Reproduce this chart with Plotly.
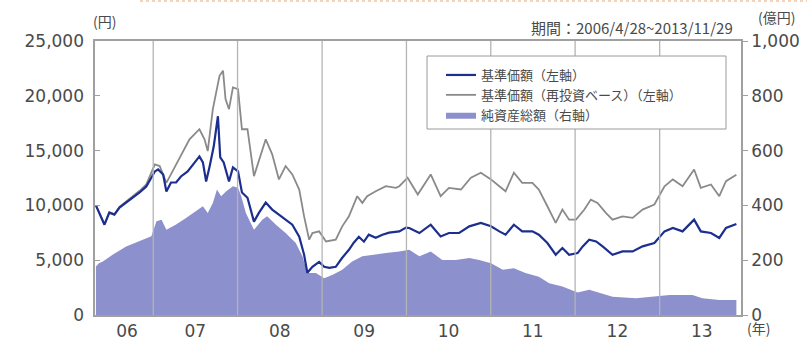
import plotly.graph_objects as go

# ---- data ----
nav_dates = ["2006-04-28","2006-05-13","2006-06-04","2006-06-25","2006-07-17","2006-08-08","2006-09-06",
             "2006-10-05","2006-11-03","2006-12-02","2006-12-24","2007-01-08","2007-01-22","2007-02-13",
             "2007-02-27","2007-03-19","2007-04-10","2007-05-01","2007-05-30","2007-06-21","2007-07-20",
             "2007-08-04","2007-08-18","2007-09-02","2007-09-20","2007-10-08","2007-10-18","2007-11-02",
             "2007-11-13","2007-11-25","2007-12-12","2008-01-03","2008-01-20","2008-02-13","2008-03-12",
             "2008-04-03","2008-05-02","2008-05-30","2008-06-28","2008-07-27","2008-08-25","2008-09-24",
             "2008-10-15","2008-10-29","2008-11-20","2008-12-19","2009-01-10","2009-02-01","2009-03-01",
             "2009-03-29","2009-04-27","2009-05-18","2009-06-09","2009-07-01","2009-07-22","2009-08-21",
             "2009-09-19","2009-10-18","2009-11-16","2009-12-01","2009-12-30","2010-01-13","2010-02-26",
             "2010-04-16","2010-05-29","2010-07-04","2010-08-17","2010-09-30","2010-11-19","2011-01-02",
             "2011-02-07","2011-03-06","2011-04-11","2011-05-17","2011-06-30","2011-07-28","2011-09-03",
             "2011-10-09","2011-11-07","2011-12-06","2012-01-12","2012-02-03","2012-03-02","2012-04-01",
             "2012-04-29","2012-06-11","2012-07-24","2012-09-06","2012-10-19","2012-12-09","2013-01-22",
             "2013-02-27","2013-04-10","2013-05-30","2013-06-28","2013-08-11","2013-09-16","2013-10-15",
             "2013-11-29"]
nav_values = [10000,9340,8240,9340,9160,9800,10260,
              10700,11180,11730,12550,13100,13280,12820,
              11270,12090,12090,12640,13100,13740,14470,
              13920,12180,13560,15390,18140,14380,13920,
              13000,12180,13470,13100,11180,10700,8520,
              9340,10260,9620,9160,8700,8240,7140,
              5500,3850,4400,4850,4400,4300,4400,
              5220,5950,6600,7140,6690,7330,7050,
              7330,7510,7600,7630,7970,7940,7480,
              8240,7170,7480,7480,8090,8400,8090,
              7630,7330,8240,7630,7630,7330,6570,
              5500,6110,5500,5650,6260,6870,6710,
              6260,5500,5800,5800,6260,6570,7630,
              7940,7630,8700,7630,7480,7030,7940,
              8300]

reinv_dates = ["2006-04-28","2006-05-13","2006-06-04","2006-06-25","2006-07-17","2006-08-08","2006-09-06",
               "2006-10-05","2006-11-03","2006-12-02","2007-01-08","2007-01-29","2007-02-27","2007-03-26",
               "2007-05-01","2007-06-07","2007-07-20","2007-08-11","2007-08-25","2007-09-16","2007-10-15",
               "2007-10-30","2007-11-10","2007-11-25","2007-12-12","2008-01-03","2008-01-20","2008-02-13",
               "2008-03-12","2008-04-03","2008-05-02","2008-05-30","2008-06-28","2008-07-27","2008-08-25",
               "2008-09-24","2008-10-15","2008-11-06","2008-11-20","2008-12-19","2009-01-18","2009-03-01",
               "2009-03-29","2009-04-27","2009-06-02","2009-06-24","2009-07-15","2009-08-21","2009-10-04",
               "2009-11-16","2009-12-01","2009-12-30","2010-01-06","2010-02-19","2010-04-16","2010-05-29",
               "2010-07-04","2010-08-25","2010-10-07","2010-11-19","2011-01-02","2011-02-07","2011-03-06",
               "2011-04-11","2011-05-17","2011-06-30","2011-07-28","2011-09-03","2011-10-09","2011-11-07",
               "2011-12-06","2012-01-05","2012-02-10","2012-03-09","2012-04-07","2012-05-13","2012-06-11",
               "2012-07-24","2012-09-06","2012-10-19","2012-12-09","2013-01-22","2013-02-27","2013-04-10",
               "2013-05-30","2013-06-28","2013-08-11","2013-09-16","2013-10-15","2013-11-29"]
reinv_values = [10000,9360,8280,9380,9200,9860,10330,
                10820,11330,11910,13740,13590,12060,13130,
                14500,16030,16950,16030,14960,18780,21830,
                22290,19700,18780,20770,20610,16950,16950,
                12670,14200,16030,14660,12370,13590,12820,
                11450,9000,6870,7480,7630,6710,6870,
                8090,9000,10840,10230,10840,11290,11750,
                11600,11750,12370,12520,10990,12820,10840,
                11600,11450,12520,12980,12370,11750,11290,
                12980,12060,12060,11450,9920,8400,9620,
                8700,8700,9620,10530,10230,9320,8700,
                9000,8860,9620,10080,11750,12370,11750,
                13280,11600,11910,10840,12210,12800]

assets_dates = ["2006-04-28","2006-05-11","2006-05-28","2006-07-09","2006-09-06","2006-11-03","2006-12-24",
                "2007-01-15","2007-02-06","2007-02-27","2007-04-10","2007-05-23","2007-07-05","2007-08-04",
                "2007-08-25","2007-09-16","2007-10-04","2007-10-22","2007-11-13","2007-12-12","2008-01-03",
                "2008-01-17","2008-02-06","2008-03-12","2008-04-17","2008-05-08","2008-06-14","2008-07-27",
                "2008-09-09","2008-10-08","2008-10-29","2008-12-05","2009-01-10","2009-02-16","2009-03-29",
                "2009-05-11","2009-06-24","2009-08-07","2009-10-04","2009-12-01","2010-01-13","2010-02-26",
                "2010-04-16","2010-06-05","2010-08-02","2010-09-30","2010-11-12","2011-01-02","2011-02-22",
                "2011-04-11","2011-05-31","2011-07-28","2011-09-11","2011-11-07","2012-01-12","2012-03-02",
                "2012-04-29","2012-06-11","2012-09-21","2012-12-16","2013-02-13","2013-05-23","2013-07-05",
                "2013-09-16","2013-11-29"]
assets_values = [177,189,195,220,250,269,287,
                 342,348,311,330,354,378,397,
                 372,409,458,433,452,470,464,
                 433,372,311,348,360,330,299,
                 263,214,153,153,134,147,165,
                 195,214,220,226,232,238,214,
                 232,201,201,208,201,189,165,
                 171,153,140,116,104,82,92,
                 79,67,61,67,73,73,61,
                 55,55]

year_starts = ["2007-01-01","2008-01-01","2009-01-01","2010-01-01","2011-01-01","2012-01-01","2013-01-01"]
year_label_pos = ["2006-09-10","2007-07-02","2008-07-02","2009-07-02","2010-07-02","2011-07-02","2012-07-02","2013-07-02"]
year_labels = ["06","07","08","09","10","11","12","13"]

names = ["基準価額（左軸）", "基準価額（再投資ベース）（左軸）", "純資産総額（右軸）"]

# ---- styling ----
W, H = 807, 338
L, R, T, B = 95, 66, 41, 23
TXT = "#4a4a4a"
FRAME = "#a0a0a0"
NUMFONT = "DejaVu Sans, Noto Sans CJK JP"
CJK = "Noto Sans CJK JP, DejaVu Sans"

def px_x(px):
    return (px - L) / (W - L - R)

def px_y(py):
    return (H - B - py) / (H - B - T)

fig = go.Figure()
fig.add_trace(go.Scatter(x=assets_dates, y=assets_values, name=names[2], yaxis="y",
                         mode="lines", line=dict(width=0, color="#8c90cc"),
                         fill="tozeroy", fillcolor="#8c90cc", legendrank=3))
fig.add_trace(go.Scatter(x=reinv_dates, y=reinv_values, name=names[1], yaxis="y2",
                         mode="lines", line=dict(width=1.8, color="#8a8a8a"), legendrank=2))
fig.add_trace(go.Scatter(x=nav_dates, y=nav_values, name=names[0], yaxis="y2",
                         mode="lines", line=dict(width=2.2, color="#1c2f8e"), legendrank=1))

shapes = []
for d in year_starts:
    shapes.append(dict(type="line", xref="x", yref="paper", x0=d, x1=d, y0=0, y1=1,
                       line=dict(color="#b4b4b4", width=1.3), layer="above"))
# legend frame
shapes.append(dict(type="rect", xref="paper", yref="paper",
                   x0=px_x(427), x1=px_x(726), y0=px_y(129), y1=px_y(56),
                   line=dict(color="#9a9a9a", width=1), fillcolor="white", layer="above"))
# faint dotted rule along the very top
shapes.append(dict(type="line", xref="paper", yref="paper", x0=px_x(140), x1=px_x(807),
                   y0=px_y(1), y1=px_y(1), line=dict(color="#f2c4a4", width=1.5, dash="dot")))

def note(text, px, py, size=14, xanchor="center"):
    return dict(text=text, xref="paper", yref="paper", x=px_x(px), y=px_y(py),
                xanchor=xanchor, yanchor="middle", showarrow=False,
                font=dict(family=CJK, size=size, color=TXT))

fig.update_layout(
    width=W, height=H,
    margin=dict(l=L, r=R, t=T, b=B, autoexpand=False),
    paper_bgcolor="white", plot_bgcolor="white",
    showlegend=True,
    legend=dict(x=px_x(441), y=px_y(60), xanchor="left", yanchor="top",
                bgcolor="rgba(0,0,0,0)", borderwidth=0,
                font=dict(family=CJK, size=13, color=TXT),
                tracegroupgap=0, itemwidth=30),
    xaxis=dict(type="date", range=["2006-04-24", "2013-12-19"], automargin=False,
               showgrid=False, zeroline=False,
               showline=True, linecolor=FRAME, linewidth=1.5, mirror=True,
               ticks="", tickmode="array", tickvals=year_label_pos, ticktext=year_labels,
               tickfont=dict(family=NUMFONT, size=17, color=TXT), ticklabelstandoff=0),
    yaxis=dict(range=[0, 1000], side="right", tickmode="linear", tick0=0, dtick=200,
               automargin=False,
               tickformat=",", showgrid=False, zeroline=False,
               showline=True, linecolor=FRAME, linewidth=1.5, mirror=True,
               ticks="outside", ticklen=5, tickcolor=FRAME,
               tickfont=dict(family=NUMFONT, size=17, color=TXT)),
    yaxis2=dict(range=[0, 25000], side="left", overlaying="y", tickmode="linear", tick0=0, dtick=5000,
                automargin=False,
                tickformat=",", showgrid=False, zeroline=False, showline=False,
                ticks="inside", ticklen=5, tickcolor=FRAME, ticklabelstandoff=10,
                tickfont=dict(family=NUMFONT, size=17, color=TXT)),
    shapes=shapes,
    annotations=[
        note("(円)", 104, 21),
        note("(億円)", 776, 17),
        note("期間：2006/4/28~2013/11/29", 735, 28, size=15, xanchor="right"),
        note("(年)", 758, 328),
    ],
)

fig.write_html("out.html")
